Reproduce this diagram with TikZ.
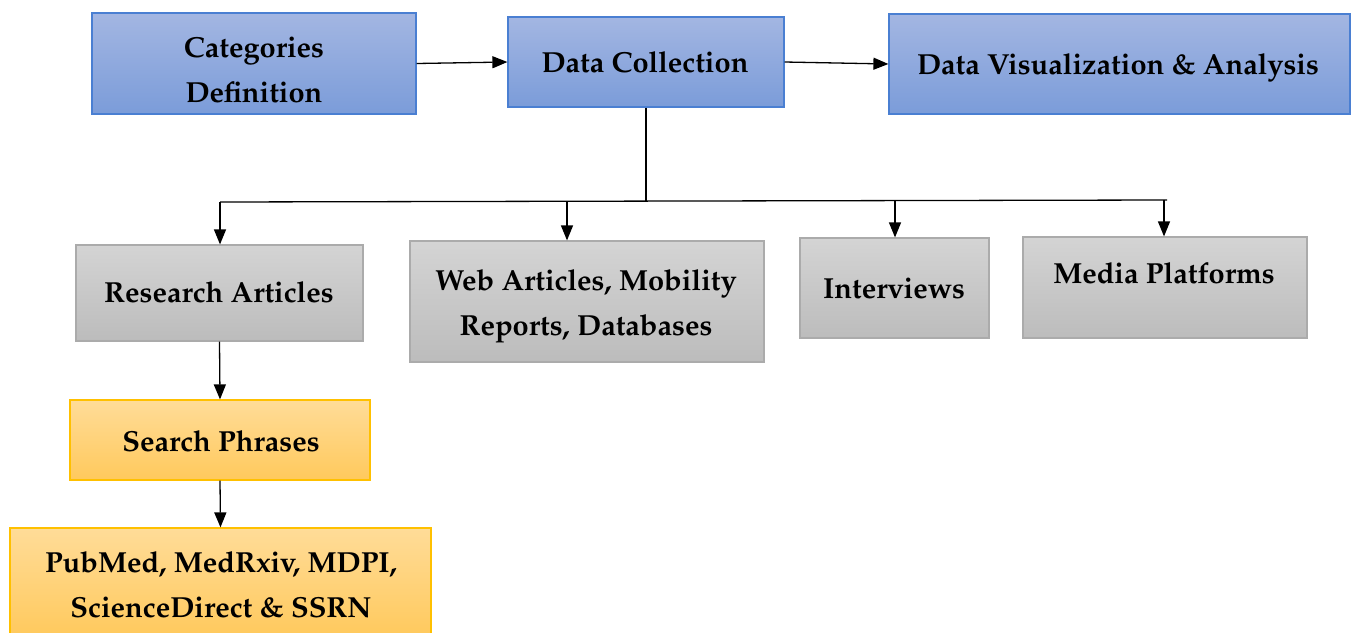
\documentclass[tikz,border=0pt]{standalone}
\usepackage[T1]{fontenc}
\usepackage{mathpazo}
\usetikzlibrary{arrows.meta}
\definecolor{bluetop}{HTML}{A3B6E2}
\definecolor{bluebot}{HTML}{7B9CD9}
\definecolor{blueline}{HTML}{4A7FD2}
\definecolor{graytop}{HTML}{D4D4D4}
\definecolor{graybot}{HTML}{BCBCBC}
\definecolor{grayline}{HTML}{ABABAB}
\definecolor{yeltop}{HTML}{FFDC98}
\definecolor{yelbot}{HTML}{FFC95C}
\definecolor{yelline}{HTML}{FFC000}
\tikzset{
  box/.style={rectangle, inner sep=0pt, line width=1.2pt},
  bluebox/.style={box, draw=blueline, top color=bluetop, bottom color=bluebot},
  graybox/.style={box, draw=grayline, top color=graytop, bottom color=graybot},
  yelbox/.style={box, draw=yelline, top color=yeltop, bottom color=yelbot},
  lbl/.style={anchor=base, inner sep=0pt, font=\fontsize{29}{45}\selectfont\bfseries},
  conn/.style={line width=1.3pt, black},
  arr/.style={conn, -{Triangle[length=15pt,width=12pt]}}
}
\begin{document}
\begin{tikzpicture}[x=1pt,y=-1pt]
\useasboundingbox (0,0) rectangle (1352,632);
% top row
\node[bluebox, minimum width=324pt, minimum height=101pt] (cat) at (254,63.5) {};
\node[bluebox, minimum width=276pt, minimum height=90pt] (dc) at (646,62) {};
\node[bluebox, minimum width=461pt, minimum height=100pt] (dv) at (1119.5,64) {};
% second row
\node[graybox, minimum width=287pt, minimum height=96pt] (ra) at (219.5,293) {};
\node[graybox, minimum width=354pt, minimum height=121pt] (web) at (587,301.5) {};
\node[graybox, minimum width=189pt, minimum height=100pt] (iv) at (894.5,288) {};
\node[graybox, minimum width=284pt, minimum height=101pt] (mp) at (1165,287.5) {};
% lower chain
\node[yelbox, minimum width=300pt, minimum height=80pt] (sp) at (220,440) {};
\node[yelbox, minimum width=421pt, minimum height=110pt] (pm) at (220.5,583) {};
% labels
\begin{scope}
\clip (100,20) rectangle (410,104);
\node[lbl] (catA) at (254,57) {Categories};
\node[lbl] (catB) at (254,102) {Definition};
\end{scope}
\node[lbl] (dcT) at (645,72) {Data Collection};
\node[lbl] (dvT) at (1118,74) {Data Visualization \& Analysis};
\node[lbl] (raT) at (219,302) {Research Articles};
\node[lbl] (webA) at (586,290) {Web Articles, Mobility};
\node[lbl] (webB) at (586,335) {Reports, Databases};
\node[lbl] (ivT) at (894,298) {Interviews};
\node[lbl] (mpT) at (1164,283) {Media Platforms};
\node[lbl] (spT) at (221,451) {Search Phrases};
\node[lbl] (pmA) at (221,572) {PubMed, MedRxiv, MDPI,};
\node[lbl] (pmB) at (221,617) {ScienceDirect \& SSRN};
% connectors
\draw[arr] (cat.east) -- (dc.west);
\draw[arr] (dc.east) -- (dv.west);
\coordinate (hub) at (646,201);
\coordinate (b1) at (220,202);
\coordinate (b2) at (567,201);
\coordinate (b3) at (895,200);
\coordinate (b4) at (1164,200);
\coordinate (bend) at (1167,200);
\draw[conn] (dc.south) -- (hub);
\draw[conn] (b1) -- (bend);
\draw[arr] (b1) -- (b1 |- ra.north);
\draw[arr] (b2) -- (b2 |- web.north);
\draw[arr] (b3) -- (b3 |- iv.north);
\draw[arr] (b4) -- (b4 |- mp.north);
\draw[arr] (ra.south) -- (sp.north);
\draw[arr] (sp.south) -- (pm.north);
\end{tikzpicture}
\end{document}
